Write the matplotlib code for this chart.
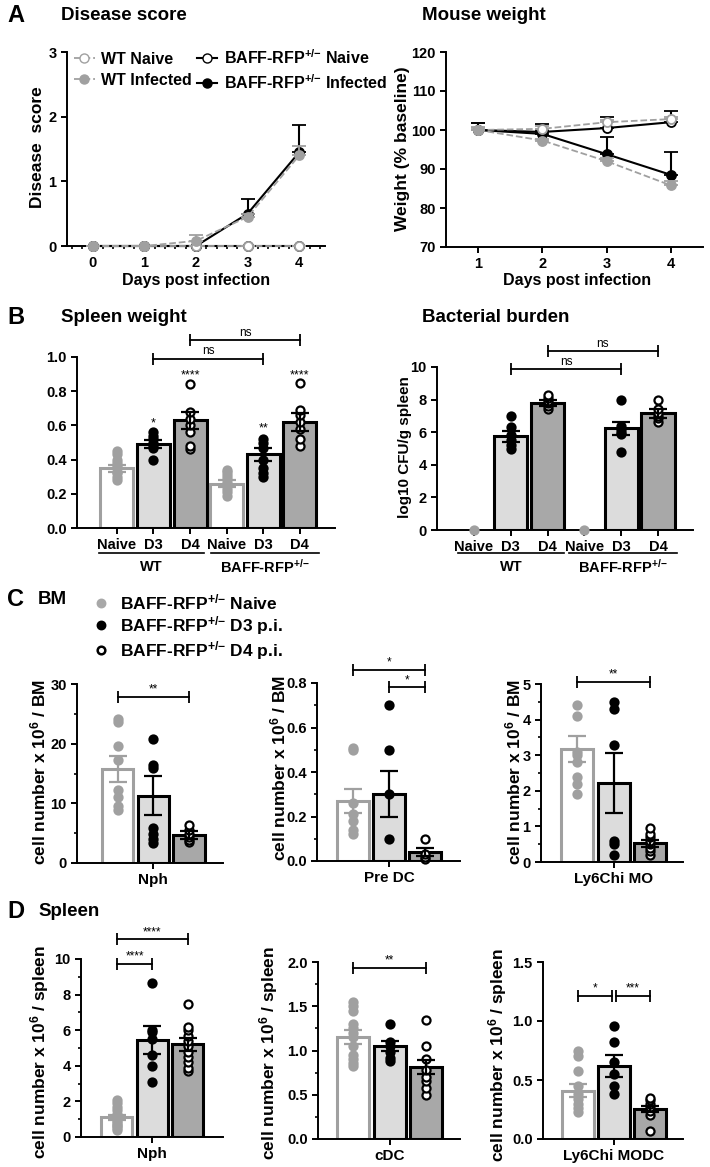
import matplotlib
matplotlib.use('Agg')
import matplotlib.pyplot as plt
from matplotlib.lines import Line2D
from matplotlib.ticker import MultipleLocator

# ---------------- DATA ----------------
# Panel A: disease score
score_days = [0, 1, 2, 3, 4]
score_wt_naive = [0, 0, 0, 0, 0]
score_wt_naive_err = [0, 0, 0, 0, 0]
score_wt_inf = [0, 0, 0.08, 0.45, 1.40]
score_wt_inf_err = [0, 0, 0.09, 0.05, 0.15]
score_baff_naive = [0, 0, 0, 0, 0]
score_baff_naive_err = [0, 0, 0, 0, 0]
score_baff_inf = [0, 0, 0, 0.50, 1.45]
score_baff_inf_err = [0, 0, 0, 0.22, 0.42]

# Panel A: mouse weight
weight_days = [1, 2, 3, 4]
weight_wt_naive = [100, 100.3, 102.0, 102.8]
weight_wt_naive_err = [0.8, 0.8, 0.6, 0.5]
weight_wt_inf = [100, 97.3, 92.0, 85.8]
weight_wt_inf_err = [0.5, 0.5, 0.7, 1.2]
weight_baff_naive = [100, 99.5, 100.5, 102.0]
weight_baff_naive_err = [1.7, 2.0, 2.8, 3.0]
weight_baff_inf = [100, 99.0, 93.8, 88.5]
weight_baff_inf_err = [1.7, 1.0, 4.4, 5.8]

SUP = r'$^{+/{-}}$'
legend_labels_A = ['WT Naive', 'WT Infected',
                   'BAFF-RFP' + SUP + ' Naive', 'BAFF-RFP' + SUP + ' Infected']

# Panel B
b_tick_labels = ['Naive', 'D3', 'D4', 'Naive', 'D3', 'D4']
b_kinds = ['naive', 'd3', 'd4', 'naive', 'd3', 'd4']
b_group_labels = ['WT', 'BAFF-RFP' + SUP]

spleen_means = [0.35, 0.49, 0.63, 0.26, 0.43, 0.62]
spleen_sem = [0.02, 0.025, 0.05, 0.02, 0.04, 0.05]
spleen_points = [
    [0.28, 0.30, 0.32, 0.33, 0.35, 0.36, 0.38, 0.40, 0.43, 0.45],
    [0.40, 0.47, 0.48, 0.50, 0.52, 0.54, 0.56],
    [0.46, 0.48, 0.56, 0.60, 0.64, 0.68, 0.84],
    [0.19, 0.21, 0.23, 0.25, 0.27, 0.29, 0.31, 0.33, 0.34],
    [0.30, 0.32, 0.35, 0.40, 0.47, 0.50, 0.52],
    [0.48, 0.52, 0.58, 0.62, 0.66, 0.69, 0.85],
]
spleen_stars = [('*', 1, 0.61), ('****', 2, 0.895), ('**', 4, 0.585), ('****', 5, 0.895)]
spleen_brackets = [(1, 4, 0.99, 'ns'), (2, 5, 1.10, 'ns')]

cfu_means = [0, 5.75, 7.8, 0, 6.25, 7.15]
cfu_sem = [0, 0.35, 0.2, 0, 0.4, 0.25]
cfu_points = [
    [0],
    [5.0, 5.2, 5.5, 5.8, 6.3, 7.0],
    [7.4, 7.6, 7.8, 7.9, 8.1, 8.3],
    [0],
    [4.8, 5.9, 6.0, 6.2, 6.4, 8.0],
    [6.6, 6.9, 7.0, 7.2, 7.4, 8.0],
]
cfu_brackets = [(1, 4, 9.88, 'ns'), (2, 5, 10.98, 'ns')]

# Panels C / D
cd_kinds = ['naive', 'd3', 'd4']
legend_labels_C = ['BAFF-RFP' + SUP + ' Naive', 'BAFF-RFP' + SUP + ' D3 p.i.',
                   'BAFF-RFP' + SUP + ' D4 p.i.']

bm_nph_means = [15.8, 11.3, 4.7]
bm_nph_sem = [2.2, 3.2, 0.6]
bm_nph_points = [[8.8, 9.6, 11.0, 12.3, 17.2, 19.6, 23.6, 24.2],
                 [3.4, 4.0, 4.8, 5.8, 16.0, 16.4, 20.8],
                 [3.5, 3.9, 4.3, 4.8, 5.5, 6.3]]
bm_nph_brackets = [(0, 2, 27.8, '**')]

bm_predc_means = [0.27, 0.30, 0.04]
bm_predc_sem = [0.055, 0.103, 0.018]
bm_predc_points = [[0.12, 0.14, 0.18, 0.21, 0.26, 0.50, 0.51],
                   [0.10, 0.30, 0.50, 0.70],
                   [0.01, 0.02, 0.03, 0.10]]
bm_predc_brackets = [(0, 2, 0.86, '*'), (1, 2, 0.78, '*')]

bm_ly6_means = [3.18, 2.22, 0.53]
bm_ly6_sem = [0.36, 0.83, 0.10]
bm_ly6_points = [[1.9, 2.2, 2.4, 2.8, 3.0, 3.1, 4.1, 4.4],
                 [0.2, 0.5, 0.6, 3.3, 4.3, 4.5],
                 [0.2, 0.3, 0.4, 0.5, 0.6, 0.7, 0.8, 0.95]]
bm_ly6_brackets = [(0, 2, 5.07, '**')]

sp_nph_means = [1.1, 5.45, 5.2]
sp_nph_sem = [0.15, 0.78, 0.36]
sp_nph_points = [[0.4, 0.5, 0.6, 0.7, 0.8, 0.9, 1.0, 1.1, 1.2, 1.3, 1.5, 1.7, 1.9, 2.1],
                 [3.1, 4.0, 4.6, 5.5, 5.9, 6.0, 8.65],
                 [3.7, 3.9, 4.2, 4.5, 4.8, 5.1, 5.4, 5.7, 6.0, 6.2, 7.5]]
sp_nph_brackets = [(0, 1, 9.72, '****'), (0, 2, 11.1, '****')]

sp_cdc_means = [1.15, 1.05, 0.81]
sp_cdc_sem = [0.08, 0.06, 0.08]
sp_cdc_points = [[0.82, 0.86, 0.90, 0.95, 1.05, 1.15, 1.20, 1.25, 1.30, 1.45, 1.50, 1.55],
                 [0.88, 0.92, 0.98, 1.05, 1.10, 1.30],
                 [0.50, 0.58, 0.65, 0.70, 0.78, 0.90, 1.05, 1.35]]
sp_cdc_brackets = [(0, 2, 1.93, '**')]

sp_ly6_means = [0.41, 0.62, 0.255]
sp_ly6_sem = [0.055, 0.095, 0.025]
sp_ly6_points = [[0.23, 0.26, 0.30, 0.34, 0.38, 0.45, 0.58, 0.70, 0.75],
                 [0.38, 0.45, 0.55, 0.65, 0.82, 0.96],
                 [0.07, 0.20, 0.24, 0.27, 0.30, 0.33, 0.35]]
sp_ly6_brackets = [(0, 0.95, 1.21, '*'), (1.05, 2, 1.21, '***')]

# ---------------- STYLE ----------------
plt.rcParams['font.family'] = ['Liberation Sans', 'DejaVu Sans']
plt.rcParams['font.weight'] = 'bold'
plt.rcParams['mathtext.fontset'] = 'custom'
plt.rcParams['mathtext.rm'] = 'Liberation Sans:bold'
plt.rcParams['mathtext.bf'] = 'Liberation Sans:bold'
plt.rcParams['mathtext.it'] = 'Liberation Sans:bold'
plt.rcParams['mathtext.default'] = 'bf'
plt.rcParams['axes.linewidth'] = 1.4
plt.rcParams['xtick.major.width'] = 1.4
plt.rcParams['ytick.major.width'] = 1.4
plt.rcParams['xtick.minor.width'] = 1.2
plt.rcParams['ytick.minor.width'] = 1.2
plt.rcParams['xtick.major.size'] = 4
plt.rcParams['ytick.major.size'] = 4
plt.rcParams['xtick.minor.size'] = 2.5
plt.rcParams['ytick.minor.size'] = 2.5
plt.rcParams['xtick.labelsize'] = 10.5
plt.rcParams['ytick.labelsize'] = 10.5

GRAY = '#a0a0a0'
LIGHT = '#dcdcdc'
DARK = '#a8a8a8'
STYLE = {
    'naive': dict(face='white', edge=GRAY, pf=GRAY, pe=GRAY, err=GRAY),
    'd3': dict(face=LIGHT, edge='black', pf='black', pe='black', err='black'),
    'd4': dict(face=DARK, edge='black', pf='white', pe='black', err='black'),
}

W, H = 710, 1167
fig = plt.figure(figsize=(W / 100, H / 100), dpi=100)


def add_ax(l, t, r, b):
    ax = fig.add_axes([l / W, 1 - b / H, (r - l) / W, (b - t) / H])
    ax.spines['top'].set_visible(False)
    ax.spines['right'].set_visible(False)
    ax.patch.set_alpha(0)
    return ax


def ftext(x, y, s, **kw):
    kw.setdefault('va', 'center')
    kw.setdefault('ha', 'left')
    fig.text(x / W, 1 - y / H, s, **kw)


def bar_panel(ax, means, sems, points, kinds, width=0.88):
    xs = list(range(len(means)))
    for xi, m, s, pts, k in zip(xs, means, sems, points, kinds):
        st = STYLE[k]
        if m > 0:
            ax.bar(xi, m, width=width, color=st['face'], edgecolor=st['edge'],
                   linewidth=2.2, zorder=2)
        ax.plot([xi] * len(pts), pts, 'o', ms=5.8, mfc=st['pf'], mec=st['pe'],
                mew=1.6, zorder=3, clip_on=False, linestyle='none')
        if s > 0:
            ax.errorbar(xi, m, yerr=s, color=st['err'], capsize=6.5, capthick=1.6,
                        elinewidth=1.6, zorder=4, fmt='none')


def brackets(ax, items):
    for x0, x1, y, txt in items:
        ax.plot([x0, x1], [y, y], color='black', lw=1.3, marker='|', ms=8,
                mew=1.3, clip_on=False, zorder=5)
        ax.annotate(txt, ((x0 + x1) / 2, y), xytext=(0, 1), textcoords='offset points',
                    ha='center', va='bottom', fontsize=8.5, fontweight='normal',
                    annotation_clip=False)


# ---------------- PANEL A ----------------
ax = add_ax(67, 52, 325, 246)
ax.errorbar(score_days, score_wt_naive, yerr=[[0] * 5, score_wt_naive_err], color=GRAY,
            ls='--', lw=1.3, marker='o', ms=6.5, mfc='white', mec=GRAY, mew=1.3,
            capsize=5, clip_on=False, zorder=3)
ax.errorbar(score_days, score_wt_inf, yerr=[[0] * 5, score_wt_inf_err], color=GRAY,
            ls='--', lw=1.3, marker='o', ms=6.5, mfc=GRAY, mec=GRAY, mew=1.3,
            capsize=5, clip_on=False, zorder=3)
ax.errorbar(score_days, score_baff_naive, yerr=[[0] * 5, score_baff_naive_err], color='black',
            ls='-', lw=1.5, marker='o', ms=6.5, mfc='white', mec='black', mew=1.3,
            capsize=5, clip_on=False, zorder=2)
ax.errorbar(score_days, score_baff_inf, yerr=[[0] * 5, score_baff_inf_err], color='black',
            ls='-', lw=1.5, marker='o', ms=6.5, mfc='black', mec='black', mew=1.3,
            capsize=5, clip_on=False, zorder=2)
ax.set_xlim(-0.5, 4.5)
ax.set_ylim(0, 3)
ax.set_xticks(score_days)
ax.xaxis.set_minor_locator(MultipleLocator(0.2))
ax.set_yticks([0, 1, 2, 3])

ax = add_ax(446, 52, 703, 247)
ax.errorbar(weight_days, weight_wt_naive, yerr=[[0] * 4, weight_wt_naive_err], color=GRAY,
            ls='--', lw=1.3, marker='o', ms=6.5, mfc='white', mec=GRAY, mew=1.3,
            capsize=5, zorder=3)
ax.errorbar(weight_days, weight_wt_inf, yerr=[[0] * 4, weight_wt_inf_err], color=GRAY,
            ls='--', lw=1.3, marker='o', ms=6.5, mfc=GRAY, mec=GRAY, mew=1.3,
            capsize=5, zorder=3)
ax.errorbar(weight_days, weight_baff_naive, yerr=[[0] * 4, weight_baff_naive_err], color='black',
            ls='-', lw=1.5, marker='o', ms=6.5, mfc='white', mec='black', mew=1.3,
            capsize=5, zorder=2)
ax.errorbar(weight_days, weight_baff_inf, yerr=[[0] * 4, weight_baff_inf_err], color='black',
            ls='-', lw=1.5, marker='o', ms=6.5, mfc='black', mec='black', mew=1.3,
            capsize=5, zorder=2)
ax.set_xlim(0.5, 4.5)
ax.set_ylim(70, 120)
ax.set_xticks(weight_days)
ax.set_yticks(range(70, 121, 10))

handles_A = [
    Line2D([], [], color=GRAY, ls='--', lw=1.3, marker='o', ms=6.5, mfc='white', mec=GRAY),
    Line2D([], [], color=GRAY, ls='--', lw=1.3, marker='o', ms=6.5, mfc=GRAY, mec=GRAY),
    Line2D([], [], color='black', ls='-', lw=1.5, marker='o', ms=6.5, mfc='white', mec='black'),
    Line2D([], [], color='black', ls='-', lw=1.5, marker='o', ms=6.5, mfc='black', mec='black'),
]
fig.legend(handles_A, legend_labels_A, loc='upper left', ncol=2,
           bbox_to_anchor=(74 / W, 1 - 48 / H), frameon=False,
           prop=dict(size=11.5, weight='bold'), handlelength=1.3, handletextpad=0.4,
           columnspacing=0.3, labelspacing=0.4, borderpad=0, borderaxespad=0)

ftext(7, 16, 'A', fontsize=17)
ftext(61, 16, 'Disease score', fontsize=13.5)
ftext(422, 16, 'Mouse weight', fontsize=13.5)
ftext(37, 147, 'Disease  score', rotation=90, ha='center', fontsize=12.5)
ftext(402, 149, 'Weight (% baseline)', rotation=90, ha='center', fontsize=12.5)
ftext(196, 280, 'Days post infection', ha='center', fontsize=11.5)
ftext(577, 280, 'Days post infection', ha='center', fontsize=11.5)

# ---------------- PANEL B ----------------
def group_under(ax, spans, labels, yline, ylab):
    tr = ax.get_xaxis_transform()
    for (a, b), lab in zip(spans, labels):
        ax.plot([a, b], [yline, yline], color='black', lw=1.2, transform=tr, clip_on=False)
        ax.text((a + b) / 2, ylab, lab, transform=tr, ha='center', va='center', fontsize=10.5)


ax = add_ax(77, 357, 335, 528)
bar_panel(ax, spleen_means, spleen_sem, spleen_points, b_kinds, width=0.9)
ax.set_xlim(-1.09, 5.96)
ax.set_ylim(0, 1.0)
ax.set_yticks([0.0, 0.2, 0.4, 0.6, 0.8, 1.0])
ax.set_yticklabels(['0.0', '0.2', '0.4', '0.6', '0.8', '1.0'])
ax.set_xticks(range(6))
ax.set_xticklabels(b_tick_labels, fontsize=10.5)
for txt, xi, yv in spleen_stars:
    ax.text(xi, yv, txt, ha='center', va='center', fontsize=9, fontweight='normal')
brackets(ax, spleen_brackets)
group_under(ax, [(-0.5, 2.38), (2.57, 5.52)], b_group_labels, -0.146, -0.228)

ax = add_ax(437, 367, 693, 530)
bar_panel(ax, cfu_means, cfu_sem, cfu_points, b_kinds, width=0.9)
ax.set_xlim(-1.0, 5.95)
ax.set_ylim(0, 10)
ax.set_yticks(range(0, 11, 2))
ax.set_xticks(range(6))
ax.set_xticklabels(b_tick_labels, fontsize=10.5)
brackets(ax, cfu_brackets)
group_under(ax, [(-0.43, 2.45), (2.58, 5.52)], b_group_labels, -0.141, -0.227)

ftext(7, 317, 'B', fontsize=17)
ftext(61, 318, 'Spleen weight', fontsize=13.5)
ftext(422, 318, 'Bacterial burden', fontsize=13.5)
ftext(405, 447, 'log10 CFU/g spleen', rotation=90, ha='center', fontsize=11)

# ---------------- PANELS C / D ----------------
def cd_panel(box, xlim, ylim, major, minor, means, sems, pts, brk, xlabel, yfmt=None):
    ax = add_ax(*box)
    bar_panel(ax, means, sems, pts, cd_kinds, width=0.88)
    ax.set_xlim(*xlim)
    ax.set_ylim(*ylim)
    ax.yaxis.set_major_locator(MultipleLocator(major))
    if minor:
        ax.yaxis.set_minor_locator(MultipleLocator(minor))
    if yfmt:
        ax.yaxis.set_major_formatter(matplotlib.ticker.FormatStrFormatter(yfmt))
    ax.set_xticks([1])
    ax.set_xticklabels([xlabel], fontsize=11)
    brackets(ax, brk)
    return ax


cd_panel((77, 684, 223, 863), (-1.15, 2.96), (0, 30), 10, 5,
         bm_nph_means, bm_nph_sem, bm_nph_points, bm_nph_brackets, 'Nph')
cd_panel((317, 683, 460, 861), (-1.0, 2.97), (0, 0.8), 0.2, 0.1,
         bm_predc_means, bm_predc_sem, bm_predc_points, bm_predc_brackets, 'Pre DC', '%.1f')
cd_panel((541, 684, 683, 862), (-0.99, 2.9), (0, 5), 1, 0.5,
         bm_ly6_means, bm_ly6_sem, bm_ly6_points, bm_ly6_brackets, 'Ly6Chi MO')
cd_panel((81, 959, 223, 1137), (-1.01, 2.99), (0, 10), 2, 1,
         sp_nph_means, sp_nph_sem, sp_nph_points, sp_nph_brackets, 'Nph')
cd_panel((318, 962, 460, 1139), (-0.97, 2.93), (0, 2.0), 0.5, 0.25,
         sp_cdc_means, sp_cdc_sem, sp_cdc_points, sp_cdc_brackets, 'cDC', '%.1f')
cd_panel((543, 962, 683, 1139), (-0.97, 2.92), (0, 1.5), 0.5, None,
         sp_ly6_means, sp_ly6_sem, sp_ly6_points, sp_ly6_brackets, 'Ly6Chi MODC', '%.1f')

ylab_bm = r'cell number x 10$^{6}$ / BM'
ylab_sp = r'cell number x 10$^{6}$ / spleen'
ftext(38, 772, ylab_bm, rotation=90, ha='center', fontsize=12.5)
ftext(278, 768, ylab_bm, rotation=90, ha='center', fontsize=12.5)
ftext(513, 772, ylab_bm, rotation=90, ha='center', fontsize=12.5)
ftext(40, 1052, ylab_sp, rotation=90, ha='center', fontsize=12.5)
ftext(269, 1053, ylab_sp, rotation=90, ha='center', fontsize=12.5)
ftext(498, 1055, ylab_sp, rotation=90, ha='center', fontsize=12.5)

handles_C = [
    Line2D([], [], ls='none', marker='o', ms=5.5, mfc='#a8a8a8', mec='#a8a8a8', mew=1.6),
    Line2D([], [], ls='none', marker='o', ms=5.5, mfc='black', mec='black', mew=1.6),
    Line2D([], [], ls='none', marker='o', ms=5.5, mfc='white', mec='black', mew=1.8),
]
fig.legend(handles_C, legend_labels_C, loc='upper left',
           bbox_to_anchor=(92 / W, 1 - 592 / H), frameon=False,
           prop=dict(size=12.5, weight='bold'), handlelength=1.0, handletextpad=0.6,
           labelspacing=0.12, borderpad=0, borderaxespad=0)

ftext(7, 600, 'C', fontsize=17)
ftext(38, 600, 'BM', fontsize=13.5)
ftext(7, 911, 'D', fontsize=17)
ftext(38, 911, 'Spleen', fontsize=13.5)

fig.savefig('out.png', dpi=100)
